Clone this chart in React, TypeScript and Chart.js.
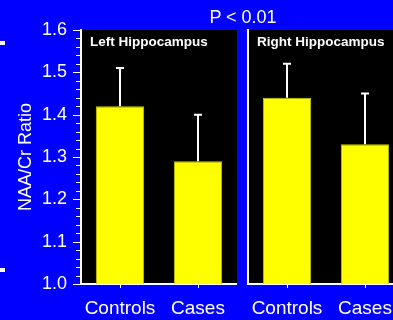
import React, { useEffect, useRef } from "react";
import { Chart, registerables } from "chart.js";

Chart.register(...registerables);

const categories = ["Controls", "Cases"];
const leftMeans = [1.42, 1.29];
const leftSD = [0.09, 0.11];
const rightMeans = [1.44, 1.33];
const rightSD = [0.08, 0.12];
const yMin = 1.0;
const yMax = 1.6;
const yStep = 0.1;
const yMinorStep = 0.02;
const leftTitle = "Left Hippocampus";
const rightTitle = "Right Hippocampus";
const topTitle = "P < 0.01";
const yAxisTitle = "NAA/Cr Ratio";

const FONT = "'Liberation Sans', Arial, Helvetica, sans-serif";
const BLUE = "#0000ff";

const panelPlugin = {
  id: "panelBg",
  beforeDraw(chart: any) {
    const { ctx, chartArea } = chart;
    ctx.save();
    ctx.fillStyle = "#000000";
    ctx.fillRect(chartArea.left, chartArea.top, chartArea.right - chartArea.left, chartArea.bottom - chartArea.top);
    ctx.restore();
  },
  afterDatasetsDraw(chart: any) {
    const { ctx, chartArea } = chart;
    const yScale = chart.scales.y;
    const ds = chart.data.datasets[0];
    const meta = chart.getDatasetMeta(0);
    ctx.save();
    ctx.strokeStyle = "#ffffff";
    ctx.lineWidth = 2;
    meta.data.forEach((el: any, i: number) => {
      const yTop = yScale.getPixelForValue(ds.data[i] + ds.sd[i]);
      ctx.beginPath();
      ctx.moveTo(el.x, el.y);
      ctx.lineTo(el.x, yTop);
      ctx.moveTo(el.x - 4, yTop);
      ctx.lineTo(el.x + 4, yTop);
      ctx.stroke();
    });
    // panel title
    const opts = chart.options.plugins.panelBg;
    ctx.fillStyle = "#ffffff";
    ctx.font = "bold 13.5px " + FONT;
    ctx.textBaseline = "middle";
    ctx.textAlign = "left";
    ctx.fillText(opts.title, chartArea.left + 9, chartArea.top + 12);
    // minor ticks on y axis
    if (opts.ticks) {
      ctx.strokeStyle = "#ffffff";
      ctx.lineWidth = 1;
      const n = Math.round((yMax - yMin) / yMinorStep);
      for (let i = 0; i <= n; i++) {
        const v = yMin + i * yMinorStep;
        const y = Math.round(yScale.getPixelForValue(v)) + 0.5;
        const len = i % 5 === 0 ? 7 : 4;
        ctx.beginPath();
        ctx.moveTo(chartArea.left - 1 - len, y);
        ctx.lineTo(chartArea.left - 1, y);
        ctx.stroke();
      }
    }
    ctx.restore();
  },
};

function makeChart(canvas: HTMLCanvasElement, means: number[], sds: number[], title: string, isLeft: boolean) {
  return new Chart(canvas, {
    type: "bar",
    data: {
      labels: categories,
      datasets: [
        {
          data: means,
          sd: sds,
          backgroundColor: "#ffff00",
          borderColor: "#c8c800",
          borderWidth: 1,
          barPercentage: 0.62,
          categoryPercentage: 1,
        } as any,
      ],
    },
    plugins: [panelPlugin],
    options: {
      animation: false,
      responsive: false,
      events: [],
      layout: { padding: { top: 30, left: isLeft ? 0 : 1, right: 0, bottom: 0 } },
      plugins: {
        legend: { display: false },
        tooltip: { enabled: false },
        panelBg: { title, ticks: isLeft },
      } as any,
      scales: {
        x: {
          grid: { display: true, drawOnChartArea: false, drawTicks: true, tickLength: 4, tickColor: "#ffffff", offset: false },
          border: { display: true, color: "#ffffff", width: 2 },
          ticks: { color: "#ffffff", font: { size: 19, family: FONT }, padding: 9, maxRotation: 0, autoSkip: false },
          afterFit(scale: any) {
            scale.height = 36;
            scale.paddingLeft = 0;
            scale.paddingRight = 0;
          },
        },
        y: {
          min: yMin,
          max: yMax,
          grid: { display: true, drawOnChartArea: false, drawTicks: false },
          border: { display: true, color: "#ffffff", width: 2 },
          ticks: {
            display: isLeft,
            stepSize: yStep,
            color: "#ffffff",
            font: { size: 18, family: FONT },
            padding: 14,
            callback: (v: any) => Number(v).toFixed(1),
          },
          title: {
            display: isLeft,
            text: yAxisTitle,
            color: "#ffffff",
            font: { size: 18, family: FONT },
            padding: { top: 15, bottom: 0 },
          },
          afterFit(scale: any) {
            scale.width = isLeft ? 81 : 0;
            scale.paddingTop = 0;
            scale.paddingBottom = 0;
          },
        },
      },
    } as any,
  });
}

export default function App() {
  const leftRef = useRef<HTMLCanvasElement>(null);
  const rightRef = useRef<HTMLCanvasElement>(null);

  useEffect(() => {
    document.body.style.margin = "0";
    const c1 = makeChart(leftRef.current!, leftMeans, leftSD, leftTitle, true);
    const c2 = makeChart(rightRef.current!, rightMeans, rightSD, rightTitle, false);
    return () => {
      c1.destroy();
      c2.destroy();
    };
  }, []);

  return (
    <div style={{ position: "relative", width: 393, height: 320, background: BLUE, overflow: "hidden", fontFamily: FONT }}>
      <canvas ref={leftRef} width={237} height={320} style={{ position: "absolute", left: 0, top: 0, width: 237, height: 320 }} />
      <canvas ref={rightRef} width={157} height={320} style={{ position: "absolute", left: 247, top: 0, width: 157, height: 320 }} />
      <div
        style={{
          position: "absolute",
          top: 8,
          left: 243,
          transform: "translateX(-50%)",
          color: "#ffffff",
          fontSize: 18,
          lineHeight: "18px",
          whiteSpace: "nowrap",
        }}
      >
        {topTitle}
      </div>
      <div style={{ position: "absolute", left: 0, top: 41, width: 5, height: 4, background: "#ffffff" }} />
      <div style={{ position: "absolute", left: 0, top: 268, width: 5, height: 4, background: "#ffffff" }} />
    </div>
  );
}
